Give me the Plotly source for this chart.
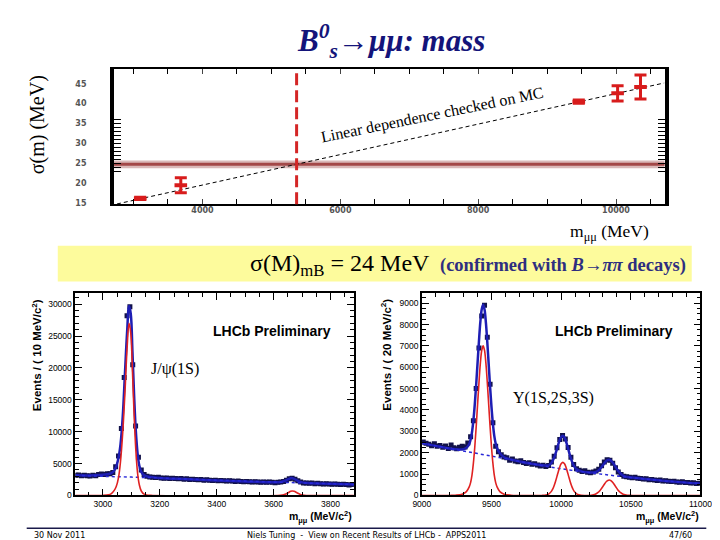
import plotly.graph_objects as go

W, H = 720, 540


def px(x):
    return x / W


def py(y):
    return 1 - y / H


RED = "#d81c1c"
NAVY = "#14147a"
DATA_C = "#12124a"
FIT_C = "#1e1eb4"

# ---------------- top panel: sigma(m) vs m ----------------
res_mass = [3097, 3686, 9460, 10023, 10355]
res_sigma = [16.2, 19.5, 40.5, 42.6, 44.2]
res_err = [0.3, 1.9, 0.4, 1.9, 3.0]
lin_mass = [2760, 10700]
lin_sigma = [14.8, 45.2]
bs_mass = 5366
bs_sigma = 24.75
bs_band = 0.95
top_minor_y = [23, 24, 25, 26, 27, 28, 29, 30, 31, 32, 33, 34, 35, 36]

# ---------------- bottom-left: J/psi region ----------------
jpsi_first_bin = 2905
jpsi_bin_width = 10
jpsi_counts = [
    3150, 3200, 3100, 3150, 3100, 3050, 3150, 3100, 3300, 3350,
    3300, 3400, 3400, 3600, 4500, 6200, 10500, 18500, 28200, 29600,
    20500, 10900, 6000, 4000, 3300, 3000, 2900, 2850, 2800, 2850,
    2750, 2700, 2750, 2650, 2700, 2650, 2600, 2650, 2550, 2600,
    2500, 2550, 2500, 2450, 2500, 2400, 2450, 2400, 2350, 2400,
    2300, 2350, 2300, 2250, 2300, 2250, 2200, 2250, 2200, 2150,
    2200, 2150, 2100, 2150, 2100, 2050, 2100, 2050, 2100, 2050,
    2000, 2050, 2100, 2200, 2400, 2600, 2700, 2550, 2300, 2100,
    1950, 1950, 1900, 1950, 1850, 1900, 1850, 1800, 1850, 1800,
    1750, 1800, 1750, 1700, 1750, 1700, 1650, 1700,
]
jpsi_fit_m = [2905, 2950, 2990, 3010, 3025, 3035, 3045, 3055, 3062, 3070, 3078, 3085,
              3092, 3098, 3104, 3110, 3116, 3122, 3128, 3135, 3145, 3160, 3200, 3300,
              3400, 3500, 3600, 3625, 3640, 3652, 3662, 3672, 3685, 3700, 3720, 3800, 3882]
jpsi_fit_v = [3150, 3130, 3200, 3300, 3400, 3650, 4300, 5900, 8000, 12500, 19500, 25500,
              29700, 28500, 22500, 15500, 10000, 6600, 4700, 3700, 3150, 2950, 2750, 2550,
              2350, 2200, 2050, 2100, 2300, 2550, 2720, 2600, 2300, 2050, 1950, 1820, 1700]
jpsi_sig_m = [2903, 3000, 3020, 3030, 3040, 3047, 3055, 3062, 3070, 3078, 3085, 3092, 3098,
              3104, 3110, 3116, 3122, 3128, 3135, 3145, 3160, 3175, 3615, 3630, 3640, 3650,
              3660, 3665, 3672, 3682, 3692, 3702, 3715, 3882]
jpsi_sig_v = [0, 0, 100, 300, 800, 1400, 2800, 5300, 10000, 16500, 23000, 27000, 25500,
              19500, 12500, 7000, 3500, 1700, 700, 200, 30, 0, 0, 60, 180, 400,
              650, 700, 650, 420, 190, 60, 0, 0]
jpsi_bkg_m = [2905, 3000, 3100, 3200, 3300, 3400, 3500, 3600, 3700, 3800, 3882]
jpsi_bkg_v = [3150, 3000, 2880, 2740, 2570, 2400, 2250, 2100, 1960, 1830, 1720]

# ---------------- bottom-right: Upsilon region ----------------
ups_first_bin = 9010
ups_bin_width = 20
ups_counts = [
    2500, 2440, 2400, 2330, 2420, 2300, 2340, 2260, 2310, 2200,
    2360, 2230, 2190, 2250, 2300, 2270, 2450, 2750, 3500, 5000,
    6900, 8400, 8900, 7400, 5200, 3400, 2300, 2050, 1900, 1800,
    1760, 1650, 1700, 1610, 1580, 1620, 1540, 1500, 1530, 1460,
    1480, 1420, 1380, 1410, 1350, 1400, 1560, 1830, 2230, 2620,
    2800, 2640, 2240, 1790, 1450, 1250, 1180, 1120, 1150, 1080,
    1060, 1100, 1140, 1230, 1390, 1560, 1670, 1650, 1510, 1300,
    1100, 975, 900, 880, 850, 830, 850, 800, 790, 770,
    780, 740, 750, 720, 700, 720, 680, 690, 660, 650,
    670, 630, 620, 640, 600, 610, 580, 590, 560, 570,
]
ups_fit_m = [9000, 9100, 9200, 9240, 9290, 9320, 9340, 9350, 9360, 9370, 9380, 9390, 9400,
             9410, 9420, 9430, 9440, 9450, 9460, 9470, 9480, 9490, 9500, 9510, 9520, 9530,
             9540, 9560, 9590, 9640, 9700, 9800, 9880, 9910, 9930, 9950, 9970, 9990, 10000,
             10012, 10024, 10044, 10064, 10084, 10104, 10144, 10190, 10215, 10245, 10265,
             10285, 10305, 10325, 10345, 10365, 10385, 10405, 10425, 10445, 10475, 10510,
             10600, 10700, 10800, 10900, 11000]
ups_fit_v = [2450, 2320, 2200, 2165, 2150, 2230, 2400, 2620, 2960, 3510, 4260, 5180, 6210,
             7220, 8120, 8720, 8920, 8700, 8080, 7160, 6130, 5070, 4130, 3360, 2790, 2430,
             2220, 1970, 1790, 1680, 1590, 1470, 1400, 1410, 1520, 1776, 2183, 2603, 2732,
             2790, 2712, 2335, 1856, 1482, 1270, 1127, 1080, 1069, 1090, 1158,
             1283, 1463, 1620, 1670, 1585, 1398, 1188, 1028, 930, 864, 835,
             770, 710, 650, 600, 560]
ups_sig_m = [9000, 9200, 9240, 9290, 9320, 9340, 9350, 9360, 9370, 9380, 9390, 9400, 9410,
             9420, 9430, 9440, 9450, 9460, 9470, 9480, 9490, 9500, 9510, 9520, 9530, 9540,
             9560, 9590, 9640, 9700, 9860, 9880, 9910, 9930, 9940, 9950, 9960, 9970, 9980,
             9990, 10000, 10012, 10024, 10034, 10044, 10054, 10064, 10074, 10084, 10094,
             10114, 10144, 10180, 10215, 10245, 10265, 10275, 10285, 10295, 10305, 10315,
             10325, 10335, 10345, 10355, 10365, 10375, 10385, 10395, 10405, 10415, 10425,
             10445, 10475, 10510, 11000]
ups_sig_v = [0, 0, 10, 60, 180, 400, 600, 950, 1510, 2270, 3200, 4250, 5270,
             6180, 6790, 7000, 6790, 6180, 5270, 4250, 3200, 2270, 1510, 950, 600, 400,
             180, 60, 10, 0, 0, 7, 60, 190, 307, 466, 666, 893, 1125,
             1333, 1482, 1550, 1482, 1333, 1125, 893, 666, 466, 307, 190,
             60, 7, 0, 9, 55, 138, 203, 283, 377, 478, 572,
             650, 702, 720, 702, 650, 572, 478, 377, 283, 203, 138,
             55, 9, 0, 0]
ups_bkg_m = [9000, 9200, 9400, 9600, 9800, 10000, 10200, 10400, 10600, 10800, 11000]
ups_bkg_v = [2450, 2200, 1960, 1720, 1470, 1250, 1070, 910, 770, 650, 560]

jpsi_mass = [jpsi_first_bin + jpsi_bin_width * i for i in range(len(jpsi_counts))]
ups_mass = [ups_first_bin + ups_bin_width * i for i in range(len(ups_counts))]

fig = go.Figure()

# top panel traces
fig.add_trace(go.Scatter(x=lin_mass, y=lin_sigma, mode="lines",
                         line=dict(color="black", width=1, dash="4px,3px"),
                         xaxis="x", yaxis="y", hoverinfo="skip"))
fig.add_trace(go.Scatter(x=res_mass, y=res_sigma, mode="markers",
                         marker=dict(symbol="line-ew", size=9, color=RED,
                                     line=dict(width=4, color=RED)),
                         error_y=dict(type="data", array=res_err, thickness=3,
                                      width=6, color=RED),
                         xaxis="x", yaxis="y"))


def add_mass_panel(xa, ya, mass, counts, bkg_m, bkg_v, fit_m, fit_v, sig_m, sig_v):
    fig.add_trace(go.Scatter(x=mass, y=counts, mode="markers",
                             marker=dict(symbol="square", size=5, color=DATA_C),
                             xaxis=xa, yaxis=ya))
    fig.add_trace(go.Scatter(x=fit_m, y=fit_v, mode="lines", line_shape="spline",
                             line=dict(color=FIT_C, width=2.5), xaxis=xa, yaxis=ya))
    fig.add_trace(go.Scatter(x=bkg_m, y=bkg_v, mode="lines", line_shape="spline",
                             line=dict(color="#2828d8", width=1.5, dash="dot"),
                             xaxis=xa, yaxis=ya))
    fig.add_trace(go.Scatter(x=sig_m, y=sig_v, mode="lines", line_shape="spline",
                             line=dict(color="#e02222", width=1.6), xaxis=xa, yaxis=ya))


add_mass_panel("x2", "y2", jpsi_mass, jpsi_counts, jpsi_bkg_m, jpsi_bkg_v,
               jpsi_fit_m, jpsi_fit_v, jpsi_sig_m, jpsi_sig_v)
add_mass_panel("x3", "y3", ups_mass, ups_counts, ups_bkg_m, ups_bkg_v,
               ups_fit_m, ups_fit_v, ups_sig_m, ups_sig_v)

small_tick = dict(family="Liberation Sans", size=8.5, color="black")
root_axis = dict(showline=True, linecolor="black", linewidth=1.5, mirror="allticks",
                 ticks="inside", ticklen=7, tickcolor="black", showgrid=False,
                 zeroline=False, tickfont=small_tick, tickformat="d")
top_font = dict(family="DejaVu Sans", size=8, color="#555555", weight="bold")

fig.update_layout(
    width=W, height=H, margin=dict(l=0, r=0, t=0, b=0),
    paper_bgcolor="white", plot_bgcolor="white", showlegend=False,
    xaxis=dict(domain=[px(100), px(667)], range=[2718, 10704], anchor="y",
               showline=True, linecolor="black", linewidth=1.5, mirror="allticks",
               tick0=4000, dtick=2000, ticks="inside", ticklen=5, tickformat="d",
               minor=dict(dtick=500, tick0=0, ticks="inside", ticklen=5, tickcolor="black"),
               showgrid=False, zeroline=False, ticklabelstandoff=-3, tickfont=top_font),
    yaxis=dict(domain=[py(198), py(62)], range=[14.75, 48.6], anchor="x",
               showline=True, linecolor="black", linewidth=4, mirror="allticks",
               tick0=15, dtick=5, ticks="", tickformat="d",
               minor=dict(tickvals=top_minor_y, ticks="inside", ticklen=7, tickcolor="black"),
               showgrid=False, zeroline=False, ticklabelstandoff=22, tickfont=top_font),
    xaxis2=dict(domain=[px(60), px(347)], range=[2903, 3882], anchor="y2",
                tick0=3000, dtick=200,
                minor=dict(dtick=50, ticks="inside", ticklen=4, tickcolor="black"),
                **root_axis),
    yaxis2=dict(domain=[py(492), py(288)], range=[0, 31700], anchor="x2",
                tick0=0, dtick=5000,
                minor=dict(dtick=1000, ticks="inside", ticklen=4, tickcolor="black"),
                **root_axis),
    xaxis3=dict(domain=[px(417), px(704)], range=[9000, 11000], anchor="y3",
                tick0=9000, dtick=500,
                minor=dict(dtick=100, ticks="inside", ticklen=4, tickcolor="black"),
                **root_axis),
    yaxis3=dict(domain=[py(492), py(288)], range=[0, 9460], anchor="x3",
                tick0=0, dtick=1000,
                minor=dict(dtick=250, ticks="inside", ticklen=4, tickcolor="black"),
                **root_axis),
)

shapes = [
    # yellow highlight band
    dict(type="rect", xref="paper", yref="paper", x0=px(42), x1=px(695),
         y0=py(276), y1=py(240), fillcolor="#fdfb9c", line=dict(width=0), layer="below"),
    # footer rule
    dict(type="line", xref="paper", yref="paper", x0=px(10), x1=px(710),
         y0=py(525), y1=py(525), line=dict(color="#1a1a4a", width=1.5)),
    # sigma(B) band and central value
    dict(type="rect", xref="x domain", yref="y", x0=0, x1=1,
         y0=bs_sigma - bs_band, y1=bs_sigma + bs_band,
         fillcolor="#dab9b9", line=dict(width=0), layer="below"),
    dict(type="line", xref="x domain", yref="y", x0=0, x1=1,
         y0=bs_sigma, y1=bs_sigma, line=dict(color="#a34848", width=3), layer="below"),
    # Bs mass
    dict(type="line", xref="x", yref="y domain", x0=bs_mass, x1=bs_mass, y0=0, y1=1,
         line=dict(color="#d42626", width=3, dash="12px,5px")),
]
fig.update_layout(shapes=shapes)

SERIF = "Liberation Serif"
SANS = "Liberation Sans"


def ann(x, y, text, size, family=SERIF, color="black", xanchor="center", angle=0):
    return dict(x=px(x), y=py(y), xref="paper", yref="paper", text=text,
                showarrow=False, xanchor=xanchor, yanchor="middle", textangle=angle,
                font=dict(family=family, size=size, color=color))


annotations = [
    ann(385, 33, "<b><i>B<sup>0</sup><sub>s</sub>→μμ: mass</i></b>", 31, color=NAVY),
    ann(22, 118, "σ(m) (MeV)", 20, angle=-90),
    ann(428, 108, "Linear dependence checked on MC", 16, angle=-11.5),
    ann(610, 227, "m<sub>μμ</sub> (MeV)", 17.5),
    ann(238, 259, "σ(M)<sub>mB</sub> = 24 MeV", 24, xanchor="left"),
    ann(434, 260, "<b>(confirmed with <i>B</i>→<i>ππ</i> decays)</b>", 18.5,
        color="#2e2e80", xanchor="left"),
    ann(263, 326, "<b>LHCb Preliminary</b>", 14, family=SANS),
    ann(615, 326, "<b>LHCb Preliminary</b>", 14, family=SANS),
    ann(163, 364, "J/ψ(1S)", 16),
    ann(553, 394, "Υ(1S,2S,3S)", 16),
    ann(20, 350, "<b>Events / ( 10 MeV/c<sup>2</sup>)</b>", 11.5, family=SANS, angle=-90),
    ann(380, 350, "<b>Events / ( 20 MeV/c<sup>2</sup>)</b>", 11.5, family=SANS, angle=-90),
    ann(347, 514, "<b>m<sub>μμ</sub> (MeV/c<sup>2</sup>)</b>", 10.5, family=SANS, xanchor="right"),
    ann(705, 514, "<b>m<sub>μμ</sub> (MeV/c<sup>2</sup>)</b>", 10.5, family=SANS, xanchor="right"),
    ann(15, 532, "30 Nov 2011", 8, family="DejaVu Sans", xanchor="left"),
    ann(360, 532, "Niels Tuning  -  View on Recent Results of LHCb -  APPS2011", 8,
        family="DejaVu Sans"),
    ann(697, 532, "47/60", 8, family="DejaVu Sans", xanchor="right"),
]
fig.update_layout(annotations=annotations)

fig.write_html("out.html")
